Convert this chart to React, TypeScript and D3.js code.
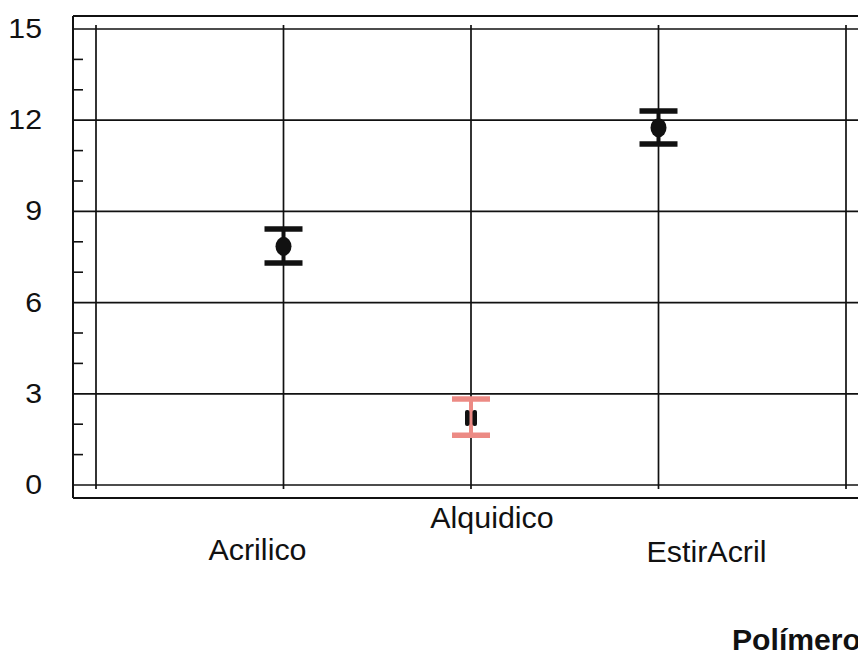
import React from "react";
import * as d3 from "d3";

const categories = ["Acrilico", "Alquidico", "EstirAcril"];
const means = [7.85, 2.2, 11.75];
const lower = [7.3, 1.64, 11.22];
const upper = [8.42, 2.83, 12.3];
const barColors = ["#111111", "#ec8a84", "#111111"];
const yTicks = [0, 3, 6, 9, 12, 15];
const yMinorTicks = [1, 2, 4, 5, 7, 8, 10, 11, 13, 14];
const xTitle = "Polímero";

const W = 858;
const H = 653;
const FONT = "'Liberation Sans', Arial, sans-serif";
// label layout (dx from category line, baseline y)
const labelDx = [-26, 21, 48];
const labelY = [560, 528, 562];

export default function App() {
  const y = d3.scaleLinear().domain([0, 15]).range([485, 29]);
  const x = d3.scalePoint<string>().domain(categories).range([96, 846]).padding(1);
  const vLines = [96, ...categories.map((c) => x(c) as number), 846];

  return (
    <svg
      width={W}
      height={H}
      style={{ position: "absolute", left: 0, top: 0, background: "#fff" }}
    >
      <rect x={0} y={0} width={W} height={H} fill="#fff" />
      {/* outer frame */}
      <line x1={73} x2={W} y1={16} y2={16} stroke="#111" strokeWidth={2} />
      <line x1={73} x2={W} y1={498} y2={498} stroke="#111" strokeWidth={2} />
      <line x1={73} x2={73} y1={16} y2={498} stroke="#111" strokeWidth={2} />
      {/* horizontal gridlines */}
      {yTicks.map((t) => (
        <line key={"h" + t} x1={73} x2={W} y1={y(t)} y2={y(t)} stroke="#111" strokeWidth={1.7} />
      ))}
      {/* minor ticks */}
      {yMinorTicks.map((t) => (
        <line key={"m" + t} x1={73} x2={83} y1={y(t)} y2={y(t)} stroke="#111" strokeWidth={1.6} />
      ))}
      {/* vertical gridlines */}
      {vLines.map((vx, i) => (
        <line key={"v" + i} x1={vx} x2={vx} y1={25} y2={489} stroke="#111" strokeWidth={1.7} />
      ))}
      {/* y tick labels */}
      {yTicks.map((t) => (
        <text
          key={"yl" + t}
          transform={`translate(42,${y(t) + 9}) scale(1.08,1)`}
          textAnchor="end"
          fontFamily={FONT}
          fontSize={28}
          fill="#111"
        >
          {t}
        </text>
      ))}
      {/* error bars */}
      {categories.map((c, i) => {
        const cx = x(c) as number;
        const col = barColors[i];
        const capW = 38;
        return (
          <g key={"e" + c}>
            <line x1={cx} x2={cx} y1={y(upper[i])} y2={y(lower[i])} stroke={col} strokeWidth={4} />
            <line x1={cx - capW / 2} x2={cx + capW / 2} y1={y(upper[i])} y2={y(upper[i])} stroke={col} strokeWidth={5.5} />
            <line x1={cx - capW / 2} x2={cx + capW / 2} y1={y(lower[i])} y2={y(lower[i])} stroke={col} strokeWidth={5.5} />
            {i === 1 ? (
              <g>
                <rect x={cx - 6} y={y(means[i]) - 8} width={4.5} height={16} rx={2} fill="#111" />
                <rect x={cx + 1.5} y={y(means[i]) - 8} width={4.5} height={16} rx={2} fill="#111" />
              </g>
            ) : (
              <ellipse cx={cx} cy={y(means[i])} rx={8} ry={9.5} fill="#111" />
            )}
          </g>
        );
      })}
      {/* category labels */}
      {categories.map((c, i) => (
        <text
          key={"xl" + c}
          transform={`translate(${(x(c) as number) + labelDx[i]},${labelY[i]}) scale(1.05,1)`}
          textAnchor="middle"
          fontFamily={FONT}
          fontSize={29}
          fill="#111"
        >
          {c}
        </text>
      ))}
      <text
        transform={`translate(732,650) scale(1.04,1)`}
        fontFamily={FONT}
        fontSize={29}
        fontWeight="bold"
        fill="#111"
      >
        {xTitle}
      </text>
    </svg>
  );
}
